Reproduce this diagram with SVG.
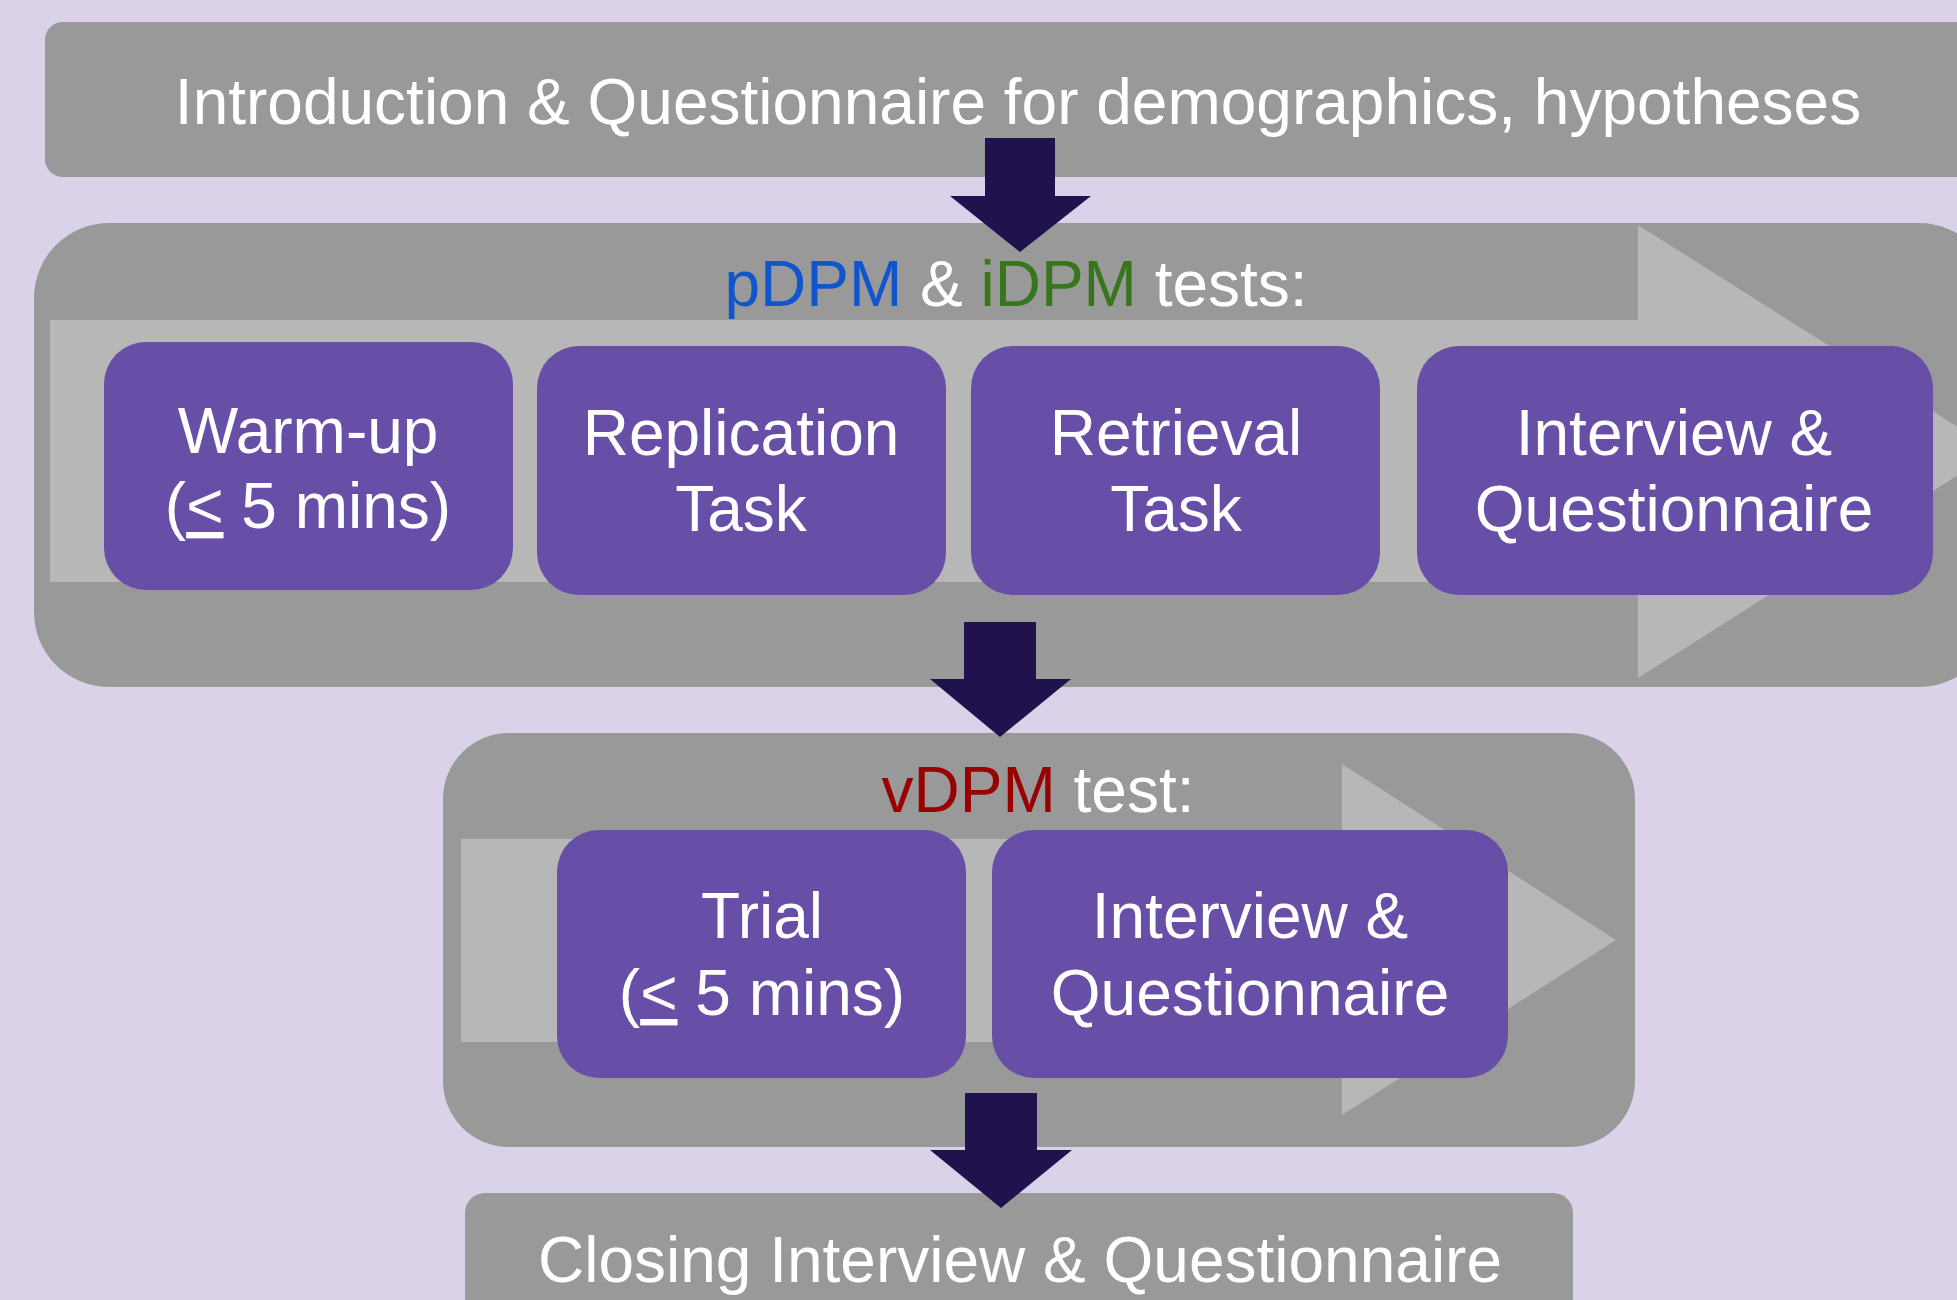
<svg xmlns="http://www.w3.org/2000/svg" width="1957" height="1300" viewBox="0 0 1957 1300">
<style>
.gray{fill:#999999}
.band{fill:#b7b7b7}
.task{fill:#674ea7}
text{font-family:"Liberation Sans",Arial,sans-serif;font-size:64px;fill:#ffffff;text-anchor:middle}
.conn{fill:#20124d}
</style>
<rect width="1957" height="1300" fill="#d9d2e9"/>
<g id="intro">
<rect class="gray" x="45" y="22" width="1960" height="155" rx="18"/>
<text x="1018" y="124">Introduction &amp; Questionnaire for demographics, hypotheses</text>
</g>
<g id="phase1">
<rect class="gray" x="34" y="223" width="1960" height="464" rx="75"/>
<polygon class="band" points="50,320 1638,320 1638,225 1996,451 1638,678 1638,582 50,582"/>
<text x="1016" y="306"><tspan fill="#1155cc">pDPM</tspan> &amp; <tspan fill="#38761d">iDPM</tspan> tests:</text>
</g>
<g id="warmup">
<rect class="task" x="104" y="342" width="409" height="248" rx="42"/>
<text x="308" y="453">Warm-up</text>
<text x="308" y="528">(<tspan text-decoration="underline">&lt;</tspan> 5 mins)</text>
</g>
<g id="replication">
<rect class="task" x="537" y="346" width="409" height="249" rx="42"/>
<text x="741" y="455">Replication</text>
<text x="741" y="531">Task</text>
</g>
<g id="retrieval">
<rect class="task" x="971" y="346" width="409" height="249" rx="42"/>
<text x="1176" y="455">Retrieval</text>
<text x="1176" y="531">Task</text>
</g>
<g id="interview1">
<rect class="task" x="1417" y="346" width="516" height="249" rx="42"/>
<text x="1674" y="455">Interview &amp;</text>
<text x="1674" y="531">Questionnaire</text>
</g>
<g id="phase2">
<rect class="gray" x="443" y="733" width="1192" height="414" rx="66"/>
<polygon class="band" points="461,839 1342,839 1342,764 1616,940 1342,1115 1342,1042 461,1042"/>
<text x="1038" y="812"><tspan fill="#990000">vDPM</tspan> test:</text>
</g>
<g id="trial">
<rect class="task" x="557" y="830" width="409" height="248" rx="42"/>
<text x="762" y="938">Trial</text>
<text x="762" y="1015">(<tspan text-decoration="underline">&lt;</tspan> 5 mins)</text>
</g>
<g id="interview2">
<rect class="task" x="992" y="830" width="516" height="248" rx="42"/>
<text x="1250" y="938">Interview &amp;</text>
<text x="1250" y="1015">Questionnaire</text>
</g>
<g id="closing">
<rect class="gray" x="465" y="1193" width="1108" height="140" rx="20"/>
<text x="1020" y="1282">Closing Interview &amp; Questionnaire</text>
</g>
<g id="connectors">
<polygon class="conn" points="985,138 1055,138 1055,196 1091,196 1020,252 950,196 985,196"/>
<polygon class="conn" points="964,622 1036,622 1036,679 1071,679 1000,737 930,679 964,679"/>
<polygon class="conn" points="965,1093 1037,1093 1037,1150 1072,1150 1001,1208 930,1150 965,1150"/>
</g>
</svg>
